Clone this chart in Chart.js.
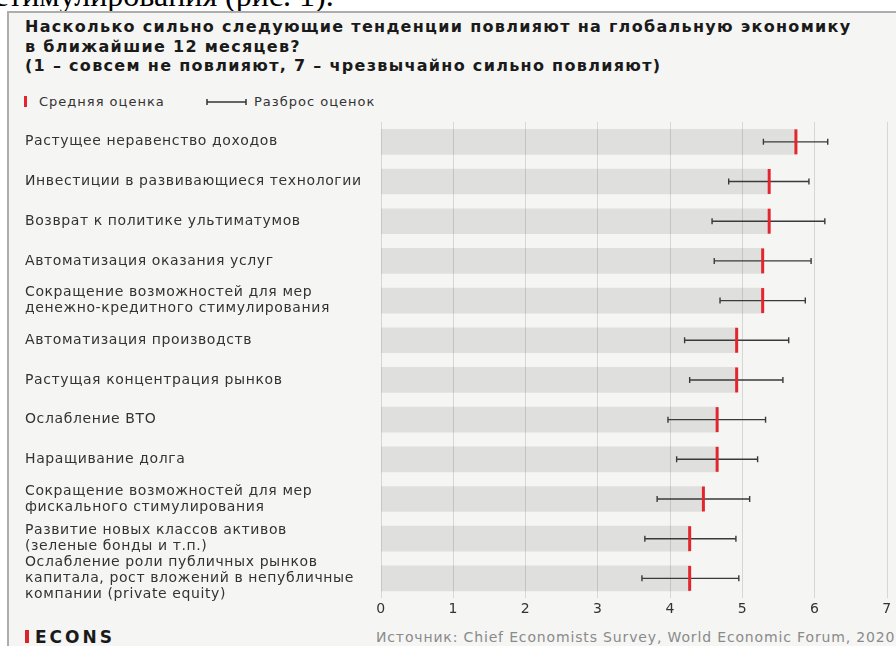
<!doctype html>
<html lang="ru">

<head>
    <meta charset="utf-8">
    <title>Тенденции и глобальная экономика</title>
    <script src="https://cdn.jsdelivr.net/npm/chart.js"></script>
    <style>
        body {
            margin: 0;
            width: 896px;
            height: 646px;
            overflow: hidden;
            background: #ffffff;
            font-family: "DejaVu Sans", sans-serif;
            position: relative;
        }

        .cut {
            position: absolute;
            left: -6px;
            top: -21px;
            font-family: "Liberation Serif", serif;
            font-size: 32px;
            line-height: 32px;
            color: #000;
            white-space: nowrap;
        }

        .box {
            position: absolute;
            left: 7px;
            top: 11px;
            width: 900px;
            height: 650px;
            border: 2px solid #adadad;
            background: #f5f5f3;
        }

        .title {
            position: absolute;
            left: 25px;
            top: 17px;
            font-weight: bold;
            font-size: 16px;
            line-height: 19.5px;
            letter-spacing: 1.3px;
            color: #1a1a1a;
            white-space: nowrap;
        }

        .legend {
            position: absolute;
            top: 94px;
            font-size: 13px;
            line-height: 16px;
            letter-spacing: 1px;
            color: #333;
            white-space: nowrap;
        }

        .footer {
            position: absolute;
            top: 627px;
            white-space: nowrap;
        }

        canvas {
            position: absolute;
            left: 0;
            top: 0;
        }
    </style>
</head>

<body>
    <div class="cut">стимулирования (рис. 1).</div>
    <div class="box"></div>

    <div class="title">Насколько сильно следующие тенденции повлияют на глобальную экономику<br>
        в ближайшие 12 месяцев?<br>
        (1 – совсем не повлияют, 7 – чрезвычайно сильно повлияют)</div>

    <!-- Legend -->
    <div class="legend" style="left: 24px;"><span
            style="display:inline-block;width:3px;height:11px;background:#e3262d;vertical-align:-1px;margin-right:12px;"></span>Средняя
        оценка</div>
    <svg style="position:absolute;left:206px;top:97px;" width="42" height="10">
        <line x1="1" y1="5" x2="40" y2="5" stroke="#333" stroke-width="1.3" />
        <line x1="1" y1="2" x2="1" y2="8" stroke="#333" stroke-width="1.5" />
        <line x1="40" y1="2" x2="40" y2="8" stroke="#333" stroke-width="1.5" />
    </svg>
    <div class="legend" style="left: 254px;">Разброс оценок</div>

    <!-- Footer -->
    <div class="footer" style="left: 25px;"><span
            style="display:inline-block;width:4px;height:13px;background:#d7262b;margin-right:6px;"></span><span
            style="font-weight:bold;font-size:17px;letter-spacing:3px;color:#1a1a1a;">ECONS</span></div>
    <div class="footer" style="left: 376px; top: 629px; font-size: 14px; letter-spacing: 0.85px; color: #8a8a8a;">
        Источник: Chief Economists Survey, World Economic Forum, 2020</div>

    <canvas id="chart" width="896" height="646"></canvas>

    <script>
        const categories = [
            'Растущее неравенство доходов',
            'Инвестиции в развивающиеся технологии',
            'Возврат к политике ультиматумов',
            'Автоматизация оказания услуг',
            ['Сокращение возможностей для мер', 'денежно-кредитного стимулирования'],
            'Автоматизация производств',
            'Растущая концентрация рынков',
            'Ослабление ВТО',
            'Наращивание долга',
            ['Сокращение возможностей для мер', 'фискального стимулирования'],
            ['Развитие новых классов активов', '(зеленые бонды и т.п.)'],
            ['Ослабление роли публичных рынков', 'капитала, рост вложений в непубличные', 'компании (private equity)']
        ];
        const means = [5.74, 5.37, 5.37, 5.28, 5.28, 4.92, 4.92, 4.65, 4.65, 4.46, 4.27, 4.27];
        const mins = [5.29, 4.81, 4.58, 4.61, 4.69, 4.20, 4.27, 3.97, 4.09, 3.82, 3.65, 3.61];
        const maxs = [6.18, 5.92, 6.14, 5.95, 5.87, 5.64, 5.56, 5.32, 5.21, 5.10, 4.91, 4.95];
        const xTicks = [0, 1, 2, 3, 4, 5, 6, 7];

        const barH = 25;

        // wider text, like in the original picture
        const spacing = {
            id: 'spacing',
            beforeLayout(chart) { chart.ctx.letterSpacing = '0.6px'; },
            beforeDraw(chart) { chart.ctx.letterSpacing = '0.6px'; }
        };

        // red mean tick + range whiskers
        const ranges = {
            id: 'ranges',
            afterDatasetsDraw(chart) {
                const ctx = chart.ctx;
                const x = chart.scales.x;
                const y = chart.scales.y;
                ctx.save();
                for (let i = 0; i < means.length; i++) {
                    const yc = y.getPixelForValue(i);
                    const a = x.getPixelForValue(mins[i]);
                    const b = x.getPixelForValue(maxs[i]);
                    ctx.strokeStyle = '#3a3a3a';
                    ctx.lineWidth = 1.4;
                    ctx.beginPath();
                    ctx.moveTo(a, yc);
                    ctx.lineTo(b, yc);
                    ctx.moveTo(a, yc - 3);
                    ctx.lineTo(a, yc + 3);
                    ctx.moveTo(b, yc - 3);
                    ctx.lineTo(b, yc + 3);
                    ctx.stroke();

                    const m = x.getPixelForValue(means[i]);
                    ctx.strokeStyle = '#e3262d';
                    ctx.lineWidth = 3;
                    ctx.beginPath();
                    ctx.moveTo(m, yc - barH / 2);
                    ctx.lineTo(m, yc + barH / 2);
                    ctx.stroke();
                }
                ctx.restore();
            }
        };

        new Chart(document.getElementById('chart'), {
            type: 'bar',
            data: {
                labels: categories,
                datasets: [{
                    data: means,
                    backgroundColor: 'rgba(0, 0, 0, 0.085)',
                    borderWidth: 0,
                    barThickness: barH
                }]
            },
            options: {
                indexAxis: 'y',
                responsive: false,
                animation: false,
                events: [],
                layout: {
                    padding: { left: 25, right: 9, top: 122, bottom: 25 }
                },
                plugins: {
                    legend: { display: false },
                    tooltip: { enabled: false }
                },
                scales: {
                    x: {
                        min: 0,
                        max: 7,
                        afterBuildTicks: (scale) => { scale.ticks = xTicks.map(v => ({ value: v })); },
                        grid: { color: '#d6d6d4', lineWidth: 1, drawTicks: false },
                        border: { display: false },
                        ticks: {
                            padding: 3,
                            color: '#333',
                            font: { family: 'DejaVu Sans', size: 14 }
                        }
                    },
                    y: {
                        offset: true,
                        grid: { display: false },
                        border: { display: false },
                        afterFit: (scale) => { scale.width = 381 - 25; },
                        ticks: {
                            autoSkip: false,
                            crossAlign: 'far',
                            padding: 0,
                            color: '#333',
                            font: { family: 'DejaVu Sans', size: 14, lineHeight: 1.15 }
                        }
                    }
                }
            },
            plugins: [spacing, ranges]
        });
    </script>
</body>

</html>
